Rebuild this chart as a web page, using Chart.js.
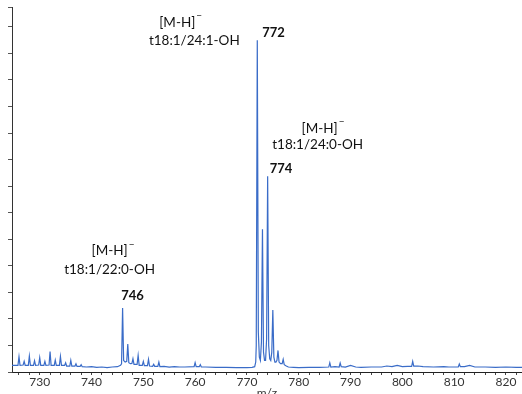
<!DOCTYPE html>
<html>
<head>
<meta charset="utf-8">
<script src="https://cdn.jsdelivr.net/npm/chart.js@4.4.1/dist/chart.umd.min.js"></script>
<style>
    html, body { margin: 0; padding: 0; background: #fff; overflow: hidden; }
    #wrap { width: 522px; height: 394px; }
</style>
</head>
<body>
<div id="wrap"><canvas id="msChart" width="522" height="394"></canvas></div>
<script>
// profile spectrum (relative intensity, 772 = 100)
const mz = [
    724.65, 725.8, 726.0, 726.2, 726.8, 727.0, 727.2, 727.8, 728.0, 728.2,
    728.8, 729.0, 729.2, 729.8, 730.0, 730.2, 730.8, 731.0, 731.2, 731.8,
    732.0, 732.2, 732.8, 733.0, 733.2, 733.8, 734.0, 734.2, 734.8, 735.0,
    735.2, 735.8, 736.0, 736.2, 736.8, 737.0, 737.2, 737.8, 738.0, 738.2,
    739, 740, 741, 742, 743, 744, 745, 745.6, 745.8, 746.0,
    746.2, 746.5, 746.8, 747.0, 747.2, 747.5, 747.8, 748.0, 748.2, 748.8,
    749.0, 749.2, 749.8, 750.0, 750.2, 750.8, 751.0, 751.2, 751.8, 752.0,
    752.2, 752.8, 753.0, 753.2, 754, 755, 756, 757, 758, 759.8,
    760.0, 760.2, 760.8, 761.0, 761.2, 762, 764, 766, 768, 770,
    771, 771.5, 771.7, 771.8, 772.0, 772.2, 772.4, 772.6, 772.8, 773.0,
    773.2, 773.4, 773.6, 773.8, 774.0, 774.2, 774.4, 774.6, 774.8, 775.0,
    775.2, 775.4, 775.6, 775.8, 776.0, 776.2, 776.5, 776.8, 777.0, 777.2,
    777.6, 778, 779, 780, 782, 784, 785.8, 786.0, 786.2, 787,
    787.8, 788.0, 788.2, 789, 790, 791, 792, 794, 796, 797,
    798, 799, 800, 801, 801.8, 802.0, 802.2, 803, 804, 806,
    808, 809, 810, 810.8, 811.0, 811.2, 812, 813, 814, 816,
    818, 820, 822, 823.1
];
const intensity = [
    2.0, 2.0, 4.6, 2.0, 2.1, 3.2, 2.0, 2.0, 4.8, 2.0,
    2.0, 3.4, 2.0, 2.1, 4.3, 2.0, 2.0, 3.2, 2.0, 2.1,
    6.2, 2.0, 2.0, 3.6, 2.0, 2.0, 4.7, 2.0, 2.0, 2.8,
    1.8, 1.8, 3.5, 1.8, 1.8, 2.5, 1.7, 1.7, 2.2, 1.6,
    1.5, 1.6, 1.4, 1.5, 1.3, 1.5, 1.6, 2.0, 2.5, 19.3,
    3.5, 3.0, 3.2, 8.4, 2.8, 2.5, 2.6, 4.0, 2.3, 2.3,
    5.0, 2.0, 2.0, 3.2, 1.9, 1.9, 3.8, 1.8, 1.7, 2.3,
    1.7, 1.7, 3.0, 1.6, 1.7, 1.5, 1.6, 1.5, 1.5, 1.6,
    2.8, 1.6, 1.6, 2.2, 1.5, 1.5, 1.4, 1.4, 1.3, 1.3,
    1.4, 1.6, 3.0, 8.0, 100, 12, 4.5, 3.5, 9.0, 43,
    6.0, 3.5, 3.5, 10, 59, 8.0, 4.0, 3.5, 6.0, 18.7,
    4.5, 3.0, 3.0, 3.5, 6.5, 3.0, 2.5, 2.5, 3.8, 2.2,
    1.8, 1.5, 1.4, 1.3, 1.4, 1.4, 1.5, 2.8, 1.5, 1.6,
    1.5, 2.7, 1.6, 1.5, 2.0, 1.5, 1.4, 1.5, 1.5, 1.8,
    1.6, 2.0, 1.6, 1.7, 1.7, 3.2, 1.8, 1.8, 1.6, 1.5,
    1.6, 1.5, 1.5, 1.5, 2.4, 1.6, 1.6, 2.0, 1.5, 1.5,
    1.4, 1.5, 1.4, 1.4
];
const xLabels = [730, 740, 750, 760, 770, 780, 790, 800, 810, 820];
const peakMz = [746, 772, 774];
const peakNames = ['t18:1/22:0-OH', 't18:1/24:1-OH', 't18:1/24:0-OH'];
const ionText = '[M-H]';

// pixel offsets of the annotations from each peak top
const labelOffsets = [
    { num: [10, -12], ion: [-11, -57], name: [-13, -38] },
    { num: [5, -7], ion: [-78, -18], name: [-63, 0] },
    { num: [2, -7], ion: [54, -48], name: [50, -32] }
];

const peakLabels = {
    id: 'peakLabels',
    afterDatasetsDraw(chart) {
        const ctx = chart.ctx;
        const x = chart.scales.x;
        const y = chart.scales.y;
        ctx.save();
        ctx.fillStyle = '#111';
        ctx.textBaseline = 'middle';
        peakMz.forEach((m, i) => {
            const idx = mz.indexOf(m);
            const px = x.getPixelForValue(mz[idx]);
            const py = y.getPixelForValue(intensity[idx]);
            const o = labelOffsets[i];

            ctx.font = 'bold 13px Lato';
            ctx.textAlign = i === 0 ? 'center' : 'left';
            ctx.fillText(String(m), px + o.num[0], py + o.num[1]);

            ctx.font = '13.5px Lato';
            ctx.textAlign = 'center';
            ctx.fillText(peakNames[i], px + o.name[0], py + o.name[1]);

            const w = ctx.measureText(ionText).width;
            const cx = px + o.ion[0];
            const cy = py + o.ion[1];
            ctx.textAlign = 'left';
            ctx.fillText(ionText, cx - w / 2 - 2, cy);
            ctx.font = '10px Lato';
            ctx.fillText('\u2212', cx + w / 2 - 1, cy - 6);
        });
        ctx.restore();
    }
};

const ctx = document.getElementById('msChart').getContext('2d');
new Chart(ctx, {
    type: 'line',
    data: {
        datasets: [{
            data: mz.map((m, i) => ({ x: m, y: intensity[i] })),
            borderColor: '#3a6cc8',
            borderWidth: 1.2,
            pointRadius: 0,
            tension: 0,
            fill: false
        }]
    },
    options: {
        responsive: false,
        animation: false,
        layout: { padding: { top: 7, right: 0, bottom: 0, left: 0 } },
        plugins: {
            legend: { display: false },
            tooltip: { enabled: false }
        },
        scales: {
            x: {
                type: 'linear',
                min: 724.65,
                max: 823.1,
                afterFit(scale) { scale.height = 22; },
                border: { color: '#222', width: 1 },
                grid: { drawOnChartArea: false, tickLength: 3, color: '#444' },
                ticks: {
                    stepSize: 2,
                    includeBounds: false,
                    autoSkip: false,
                    maxRotation: 0,
                    padding: 0,
                    color: '#333',
                    font: { family: 'Lato', size: 12 },
                    callback: (v) => xLabels.includes(v) ? String(v) : ''
                },
                title: {
                    display: true,
                    text: 'm/z',
                    color: '#333',
                    font: { family: 'Lato', size: 12 },
                    padding: { top: 0, bottom: -6 }
                }
            },
            y: {
                min: 0,
                max: 110,
                afterFit(scale) { scale.width = 12; },
                border: { color: '#333', width: 1 },
                grid: { drawOnChartArea: false, tickLength: 4, color: '#555' },
                ticks: { display: false, stepSize: 8 }
            }
        }
    },
    plugins: [peakLabels, {
        id: 'whiteBg',
        beforeDraw(chart) {
            const c = chart.ctx;
            c.save();
            c.fillStyle = '#fff';
            c.fillRect(0, 0, chart.width, chart.height);
            c.restore();
        }
    }]
});
</script>
</body>
</html>
